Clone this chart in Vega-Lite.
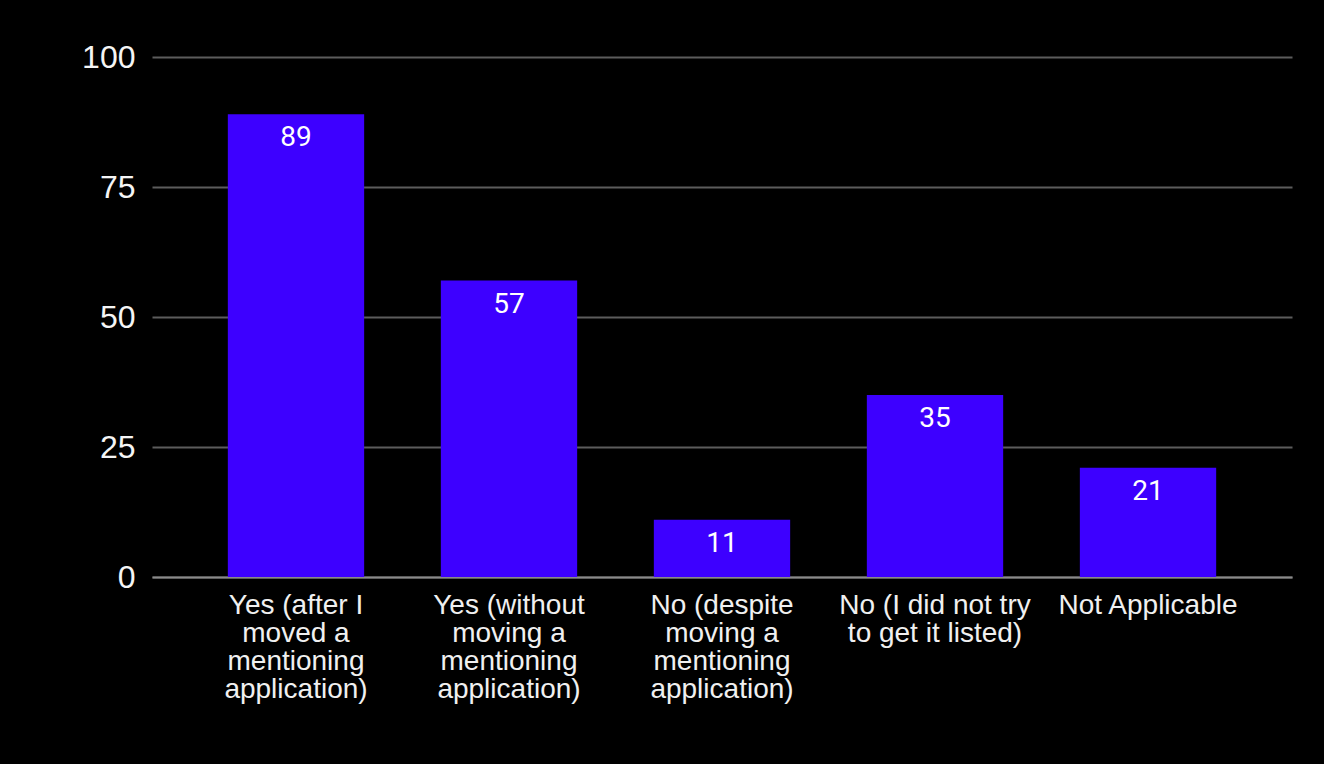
{
  "$schema": "https://vega.github.io/schema/vega-lite/v6.json",
  "autosize": {"type": "none"},
  "width": 1140,
  "height": 520,
  "padding": {"left": 152, "top": 57, "right": 32, "bottom": 187},
  "background": "#000000",
  "config": {
    "view": {"stroke": null},
    "font": "Liberation Sans"
  },
  "data": {
    "values": [
      {"answer": "Yes (after I moved a mentioning application)", "count": 89},
      {"answer": "Yes (without moving a mentioning application)", "count": 57},
      {"answer": "No (despite moving a mentioning application)", "count": 11},
      {"answer": "No (I did not try to get it listed)", "count": 35},
      {"answer": "Not Applicable", "count": 21}
    ]
  },
  "encoding": {
    "x": {
      "field": "answer",
      "type": "nominal",
      "sort": null,
      "scale": {"paddingInner": 0.36, "paddingOuter": 0.356},
      "axis": {
        "title": null,
        "labelAngle": 0,
        "ticks": false,
        "tickSize": 0,
        "labelPadding": 14,
        "labelFont": "Liberation Sans",
        "labelFontSize": 28,
        "labelLineHeight": 28,
        "labelColor": "#f0f0f0",
        "labelLimit": 300,
        "domain": true,
        "domainColor": "#8a8a8a",
        "domainWidth": 2,
        "labelExpr": "{'Yes (after I moved a mentioning application)': ['Yes (after I', 'moved a', 'mentioning', 'application)'], 'Yes (without moving a mentioning application)': ['Yes (without', 'moving a', 'mentioning', 'application)'], 'No (despite moving a mentioning application)': ['No (despite', 'moving a', 'mentioning', 'application)'], 'No (I did not try to get it listed)': ['No (I did not try', 'to get it listed)'], 'Not Applicable': ['Not Applicable']}[datum.value]"
      }
    },
    "y": {
      "field": "count",
      "type": "quantitative",
      "scale": {"domain": [0, 100]},
      "axis": {
        "title": null,
        "values": [0, 25, 50, 75, 100],
        "domain": false,
        "ticks": false,
        "tickSize": 0,
        "labelPadding": 17,
        "labelFont": "Liberation Sans",
        "labelFontSize": 32,
        "labelColor": "#f5f5f5",
        "grid": true,
        "gridColor": "#5c5c5c",
        "gridWidth": 2
      }
    }
  },
  "layer": [
    {"mark": {"type": "bar", "color": "#3d00ff"}},
    {
      "mark": {
        "type": "text",
        "baseline": "alphabetic",
        "dy": 32,
        "font": "Roboto",
        "fontSize": 28,
        "color": "#ffffff"
      },
      "encoding": {"text": {"field": "count", "type": "quantitative"}}
    }
  ]
}
